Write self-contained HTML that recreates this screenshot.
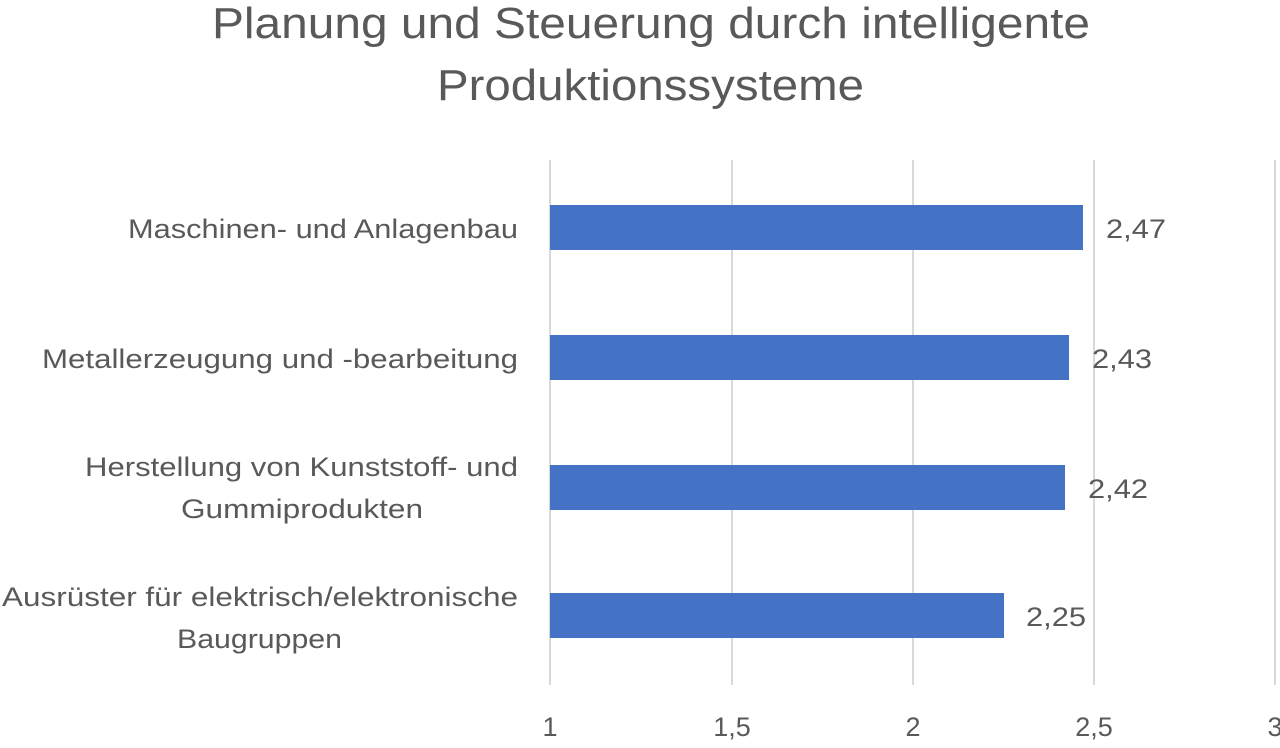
<!DOCTYPE html>
<html><head><meta charset="utf-8"><style>
body{margin:0;background:#fff;width:1280px;height:743px;overflow:hidden;font-family:"Liberation Sans",sans-serif;color:#595959}
</style></head><body>
<svg width="1280" height="743" xmlns="http://www.w3.org/2000/svg" font-family="Liberation Sans, sans-serif" fill="#595959">
<text x="212" y="38" font-size="44" textLength="878" lengthAdjust="spacingAndGlyphs">Planung und Steuerung durch intelligente</text>
<text x="437" y="100" font-size="44" textLength="427" lengthAdjust="spacingAndGlyphs">Produktionssysteme</text>
<g stroke="#d9d9d9" stroke-width="2">
<line x1="550" y1="160" x2="550" y2="685"/>
<line x1="732" y1="160" x2="732" y2="685"/>
<line x1="913" y1="160" x2="913" y2="685"/>
<line x1="1094" y1="160" x2="1094" y2="685"/>
<line x1="1275" y1="160" x2="1275" y2="685"/>
</g>
<g fill="#4472c4">
<rect x="550" y="205" width="533" height="45"/>
<rect x="550" y="335" width="519" height="45"/>
<rect x="550" y="465" width="515" height="45"/>
<rect x="550" y="593" width="454" height="45"/>
</g>
<g font-size="27">
<text x="1106" y="238" textLength="60" lengthAdjust="spacingAndGlyphs">2,47</text>
<text x="1092" y="368" textLength="60" lengthAdjust="spacingAndGlyphs">2,43</text>
<text x="1088" y="498" textLength="60" lengthAdjust="spacingAndGlyphs">2,42</text>
<text x="1026" y="626" textLength="60" lengthAdjust="spacingAndGlyphs">2,25</text>
</g>
<g font-size="27">
<text x="128" y="238" textLength="390" lengthAdjust="spacingAndGlyphs">Maschinen- und Anlagenbau</text>
<text x="42" y="368" textLength="476" lengthAdjust="spacingAndGlyphs">Metallerzeugung und -bearbeitung</text>
<text x="85" y="476" textLength="433" lengthAdjust="spacingAndGlyphs">Herstellung von Kunststoff- und</text>
<text x="181" y="518" textLength="242" lengthAdjust="spacingAndGlyphs">Gummiprodukten</text>
<text x="2" y="606" textLength="516" lengthAdjust="spacingAndGlyphs">Ausrüster für elektrisch/elektronische</text>
<text x="177" y="648" textLength="165" lengthAdjust="spacingAndGlyphs">Baugruppen</text>
</g>
<g font-size="27" text-anchor="middle">
<text x="550" y="736">1</text>
<text x="732" y="736">1,5</text>
<text x="913" y="736">2</text>
<text x="1094" y="736">2,5</text>
<text x="1275" y="736">3</text>
</g>
</svg>
</body></html>
